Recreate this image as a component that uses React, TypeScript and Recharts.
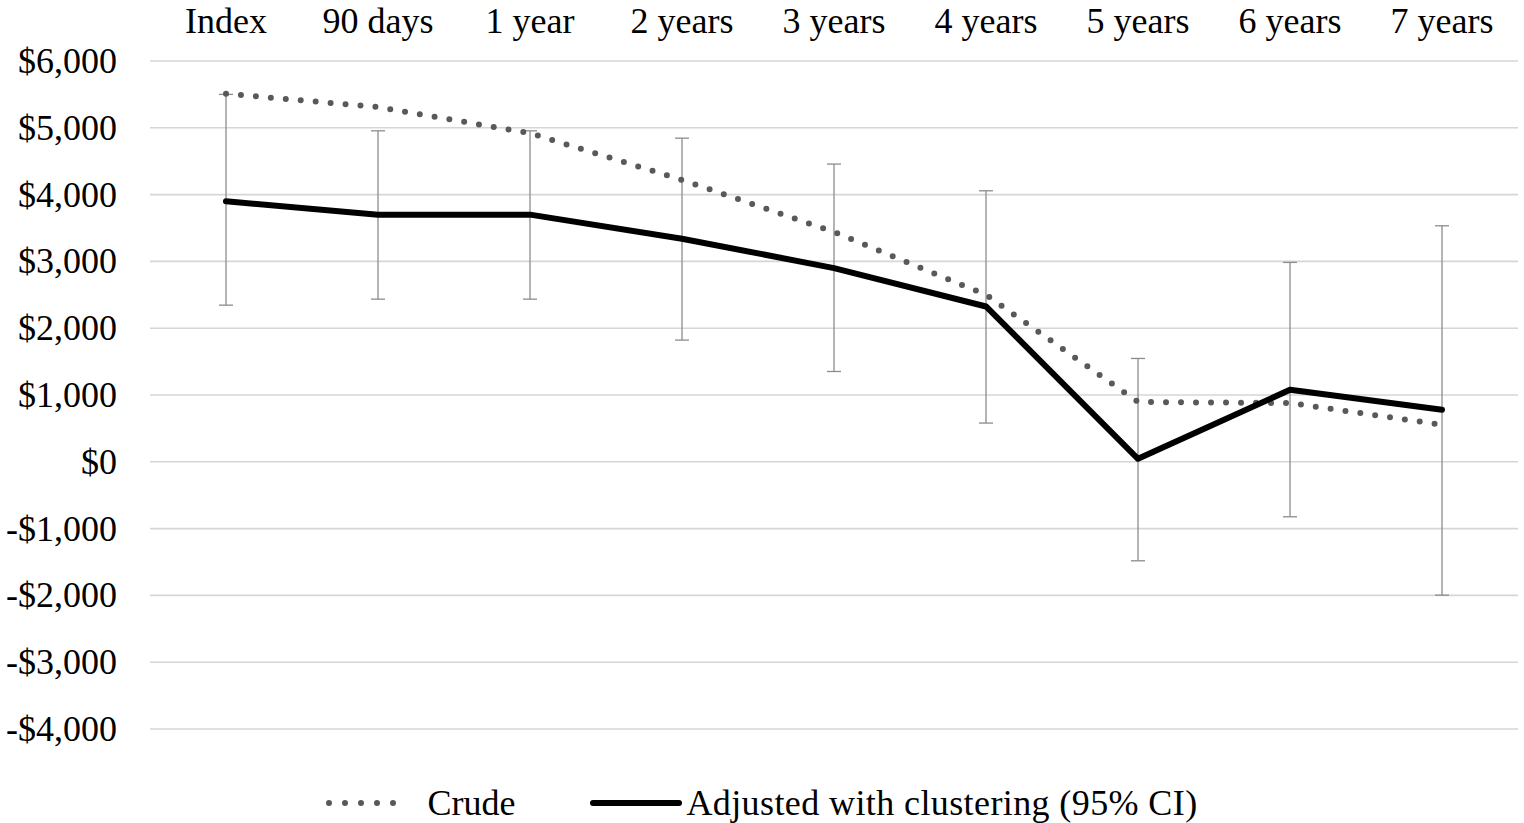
import React from "react";
import {
  LineChart,
  Line,
  XAxis,
  YAxis,
  CartesianGrid,
  ErrorBar,
  Legend,
} from "recharts";

const categories = ["Index", "90 days", "1 year", "2 years", "3 years", "4 years", "5 years", "6 years", "7 years"];
const crude = [5510, 5310, 4920, 4220, 3440, 2500, 895, 880, 555];
const adjusted = [3900, 3700, 3700, 3340, 2900, 2325, 45, 1078, 778];
const ciLow = [2345, 2435, 2435, 1822, 1352, 580, -1482, -823, -1996];
const ciHigh = [5500, 4955, 4955, 4845, 4457, 4057, 1547, 2985, 3533];
const yTicks = [-4000, -3000, -2000, -1000, 0, 1000, 2000, 3000, 4000, 5000, 6000];

const data = categories.map((c, i) => ({
  name: c,
  crude: crude[i],
  adjusted: adjusted[i],
  err: [adjusted[i] - ciLow[i], ciHigh[i] - adjusted[i]],
}));

const FONT = '"Liberation Serif", "Times New Roman", serif';

const fmt = (v: number) => {
  const s = "$" + Math.abs(v).toLocaleString("en-US");
  return v < 0 ? "-" + s : s;
};

const YTick = (props: any) => {
  const { y, payload } = props;
  return (
    <text x={117} y={y} dy={12} textAnchor="end" fontFamily={FONT} fontSize={36} fill="#000">
      {fmt(payload.value)}
    </text>
  );
};

const XTick = (props: any) => {
  const { x, payload } = props;
  return (
    <text x={x} y={32.5} textAnchor="middle" fontFamily={FONT} fontSize={36} fill="#000">
      {payload.value}
    </text>
  );
};

const LegendContent = () => (
  <div
    style={{
      display: "flex",
      justifyContent: "center",
      alignItems: "center",
      height: 40,
      width: 1524,
      fontFamily: FONT,
      fontSize: 36,
      color: "#000",
      lineHeight: "40px",
    }}
  >
    <svg width={86} height={12} style={{ display: "block" }}>
      <line x1={3} y1={6} x2={83} y2={6} stroke="#595959" strokeWidth={6} strokeDasharray="0 16" strokeLinecap="round" />
    </svg>
    <span style={{ marginLeft: 15 }}>Crude</span>
    <svg width={92} height={12} style={{ display: "block", marginLeft: 75 }}>
      <line x1={3} y1={6} x2={89} y2={6} stroke="#000" strokeWidth={6} strokeLinecap="round" />
    </svg>
    <span style={{ marginLeft: 4, letterSpacing: 0.4 }}>Adjusted with clustering (95% CI)</span>
  </div>
);

export default function App() {
  return (
    <div style={{ position: "absolute", left: 0, top: 0, width: 1524, height: 823, background: "#fff" }}>
      <LineChart
        width={1524}
        height={823}
        data={data}
        margin={{ top: 0, right: 6, bottom: 54, left: 0 }}
      >
        <CartesianGrid vertical={false} stroke="#d6d6d6" strokeWidth={1.6} />
        <XAxis
          dataKey="name"
          orientation="top"
          height={61}
          axisLine={false}
          tickLine={false}
          tick={<XTick />}
          interval={0}
          padding={{ left: 76, right: 76 }}
        />
        <YAxis
          width={150}
          domain={[-4000, 6000]}
          ticks={yTicks}
          axisLine={false}
          tickLine={false}
          tick={<YTick />}
          interval={0}
        />
        <Legend
          verticalAlign="bottom"
          content={<LegendContent />}
          wrapperStyle={{ left: 0, bottom: 0, width: 1524, height: 40 }}
        />
        <Line
          dataKey="adjusted"
          stroke="none"
          strokeWidth={0}
          dot={false}
          activeDot={false}
          legendType="none"
          isAnimationActive={false}
        >
          <ErrorBar dataKey="err" direction="y" width={7} stroke="#8c8c8c" strokeWidth={1.3} />
        </Line>
        <Line
          dataKey="crude"
          stroke="#595959"
          strokeWidth={6}
          strokeDasharray="0 15"
          strokeLinecap="round"
          dot={false}
          activeDot={false}
          isAnimationActive={false}
        />
        <Line
          dataKey="adjusted"
          stroke="#000"
          strokeWidth={6}
          strokeLinecap="round"
          strokeLinejoin="round"
          dot={false}
          activeDot={false}
          isAnimationActive={false}
        />
      </LineChart>
    </div>
  );
}
